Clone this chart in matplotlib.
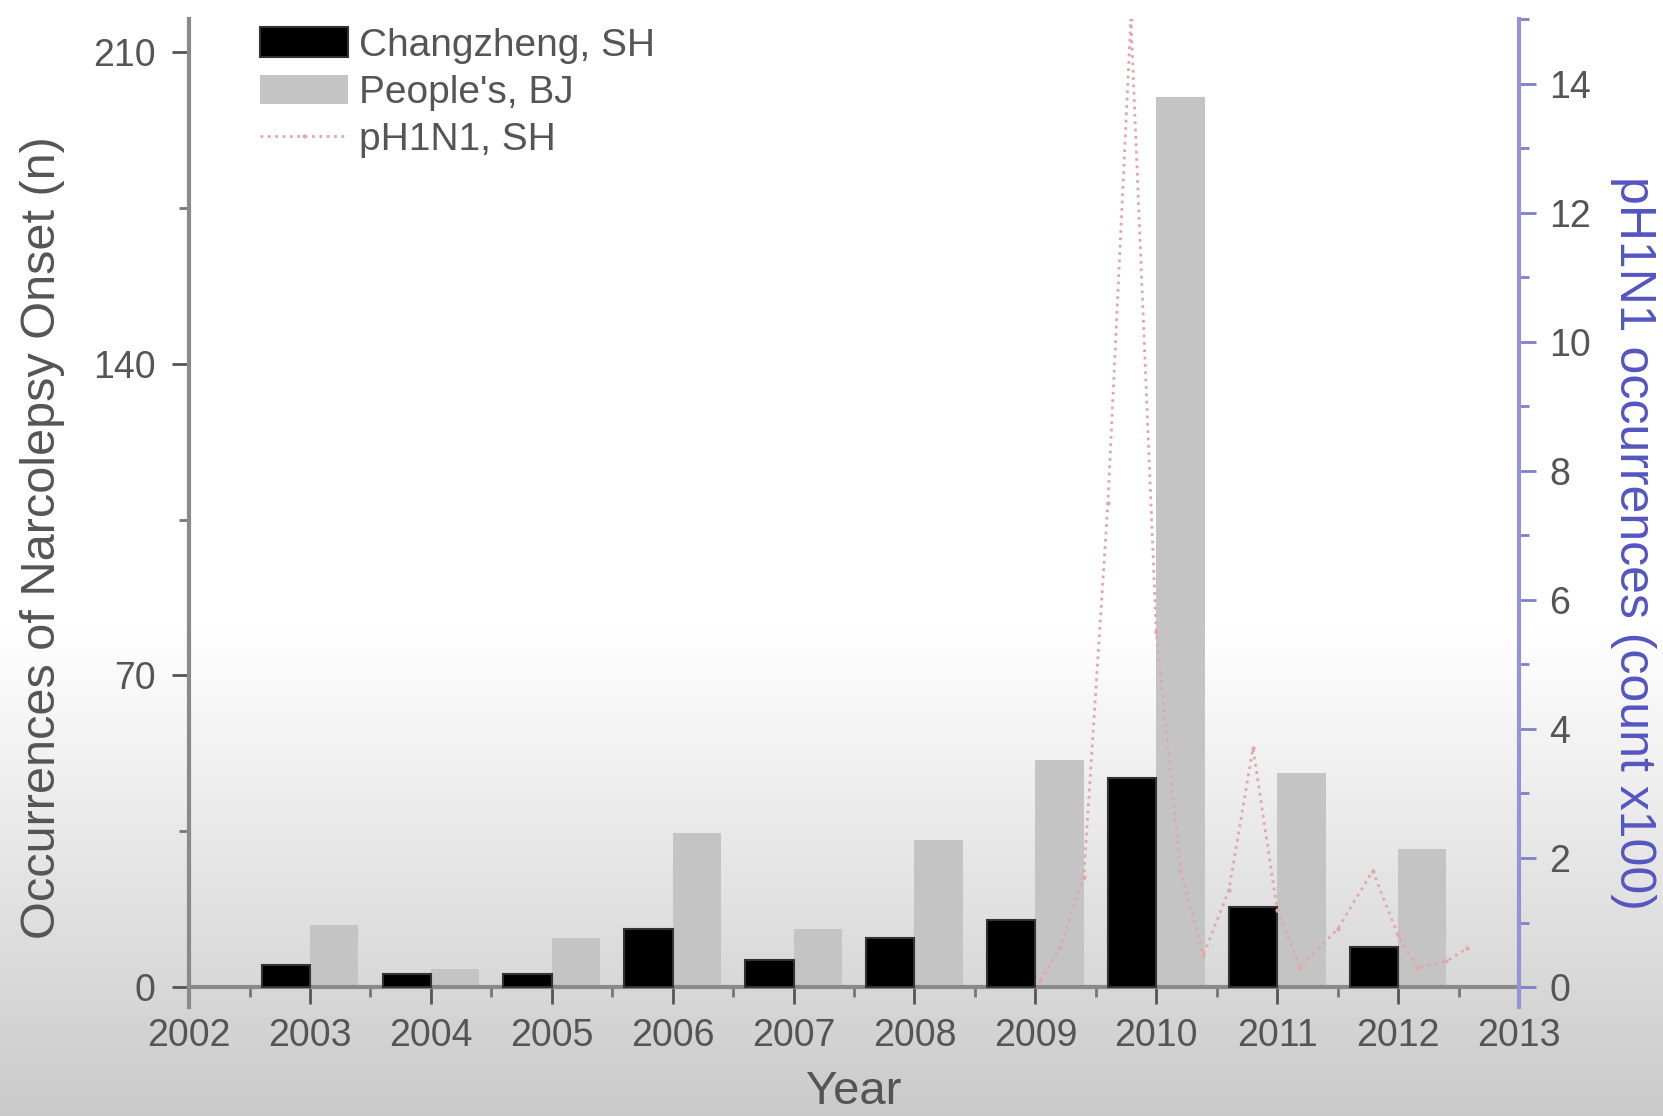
import numpy as np
import matplotlib.pyplot as plt
from matplotlib.ticker import MultipleLocator

plt.rcParams['font.family'] = ['Liberation Sans', 'DejaVu Sans']

years = [2003, 2004, 2005, 2006, 2007, 2008, 2009, 2010, 2011, 2012]
changzheng_sh = [5, 3, 3, 13, 6, 11, 15, 47, 18, 9]
peoples_bj = [14, 4, 11, 34.5, 13, 33, 51, 200, 48, 31]

# pH1N1 counts (x100)
flu_t = [2009.04, 2009.2, 2009.4, 2009.6, 2009.79, 2010.0, 2010.2, 2010.39,
         2010.6, 2010.8, 2011.0, 2011.19, 2011.5, 2011.79, 2012.0, 2012.16,
         2012.4, 2012.57]
flu_n = [0.1, 0.6, 1.7, 7.5, 15.0, 5.5, 1.8, 0.5,
         1.5, 3.7, 1.2, 0.3, 0.9, 1.8, 0.8, 0.3,
         0.4, 0.6]

fig = plt.figure(figsize=(16.63, 11.16), dpi=100)

# washed-out grey band at the bottom of the screenshot
bg = fig.add_axes([0, 0, 1, 1], zorder=-10)
h = 1116
shade = np.ones(h)
ramp = np.arange(h) > 620
shade[ramp] = 1 - 0.21 * (np.arange(h)[ramp] - 620) / (h - 620)
bg.imshow(shade[:, None], cmap='gray', vmin=0, vmax=1, aspect='auto',
          extent=[0, 1, 0, 1], origin='upper')
bg.axis('off')

ax = fig.add_axes([0.1137, 0.0976, 0.7997, 0.8854])
ax.patch.set_alpha(0)

x = np.array(years)
ax.bar(x - 0.2, changzheng_sh, width=0.4, color='black', edgecolor='#333333',
       linewidth=1.5, label='Changzheng, SH', zorder=3)
ax.bar(x + 0.2, peoples_bj, width=0.4, color='#c4c4c4', edgecolor='#c4c4c4',
       linewidth=0, label="People's, BJ", zorder=2)

ax.set_xlim(2002, 2013)
ax.set_ylim(-4.5, 217.5)
ax.set_xticks(range(2002, 2014))
ax.xaxis.set_minor_locator(MultipleLocator(0.5))
ax.set_yticks([0, 70, 140, 210])
ax.yaxis.set_minor_locator(MultipleLocator(35))

spine_col = '#8a8a8a'
for s in ['top', 'right']:
    ax.spines[s].set_visible(False)
ax.spines['bottom'].set_position(('data', 0))
ax.spines['bottom'].set_color(spine_col)
ax.spines['bottom'].set_linewidth(3)
ax.spines['left'].set_color(spine_col)
ax.spines['left'].set_linewidth(3)
ax.tick_params(axis='both', which='major', length=12, width=2, color='#555555',
               labelsize=27, labelcolor='#555555', direction='out')
ax.tick_params(axis='both', which='minor', length=7, width=2, color='#777777',
               direction='out')
ax.tick_params(axis='x', pad=10)
ax.tick_params(axis='y', pad=12)

ax.set_xlabel('Year', fontsize=34, color='#555555', labelpad=12)
ax.set_ylabel('Occurrences of Narcolepsy Onset (n)', fontsize=35, color='#555555')
ax.yaxis.set_label_coords(-0.093, 0.475)

ax2 = ax.twinx()
ax2.set_ylim(-4.5 * 15 / 217.5, 15)
ax2.plot(flu_t, flu_n, color='#e2a8a8', linestyle=':', linewidth=2,
         marker='.', markersize=4, label='pH1N1, SH', zorder=4)
ax2.set_yticks(range(0, 15, 2))
ax2.yaxis.set_minor_locator(MultipleLocator(1))
for s in ['top', 'left', 'bottom']:
    ax2.spines[s].set_visible(False)
ax2.spines['right'].set_color('#9494d0')
ax2.spines['right'].set_linewidth(3)
ax2.tick_params(axis='y', which='major', length=12, width=2, color='#8080c8',
                labelsize=27, labelcolor='#555555', pad=10)
ax2.tick_params(axis='y', which='minor', length=7, width=2, color='#8080c8')
ax2.set_ylabel('pH1N1 occurrences (count x100)', fontsize=36, color='#5555c0',
               rotation=-90, va='center')
ax2.yaxis.set_label_coords(1.086, 0.47)

h1, l1 = ax.get_legend_handles_labels()
h2, l2 = ax2.get_legend_handles_labels()
ax.legend(h1 + h2, l1 + l2, loc='upper left', bbox_to_anchor=(0.14, 1.0),
          bbox_transform=fig.transFigure, frameon=False, fontsize=28,
          labelcolor='#555555', handlelength=2.25, handleheight=0.8,
          handletextpad=0.3, labelspacing=0.28, borderpad=0.2)

fig.savefig('out.png', dpi=100)
